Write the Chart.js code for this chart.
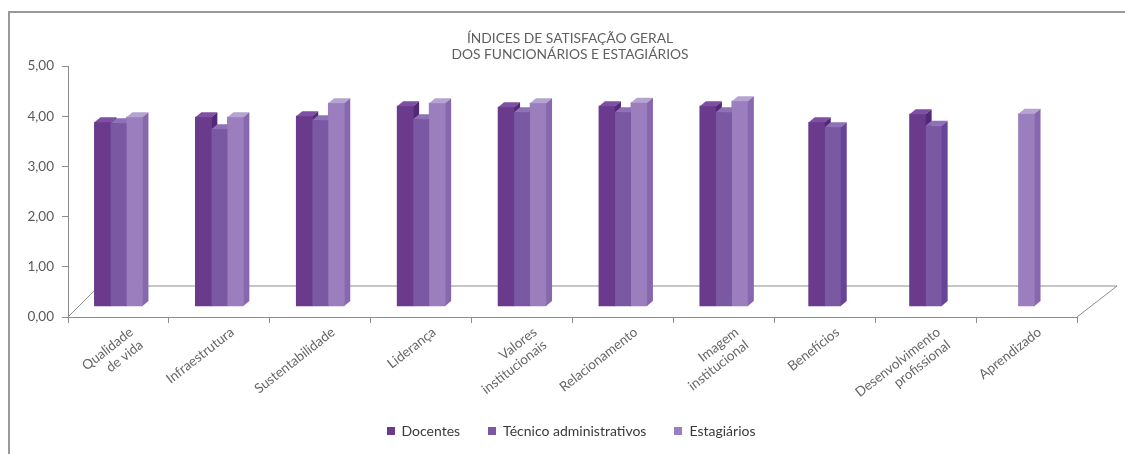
<!DOCTYPE html>
<html><head><meta charset="utf-8">
<script src="https://cdn.jsdelivr.net/npm/chart.js@4.4.0/dist/chart.umd.min.js"></script>
<style>
html,body{margin:0;padding:0;background:#fff;}
#wrap{position:relative;width:1125px;height:454px;overflow:hidden;}
#c{position:absolute;left:0;top:0;}
#frame{position:absolute;left:8px;top:11px;right:-5px;bottom:-5px;border-top:2px solid #999;border-left:2px solid #999;pointer-events:none;}
#title{position:absolute;top:30px;left:0;width:1140px;text-align:center;font-family:Lato,sans-serif;font-size:13.8px;line-height:16px;color:#5f5f5f;white-space:nowrap;}
#legend{position:absolute;top:422px;left:0;width:1142px;text-align:center;font-family:Lato,sans-serif;font-size:14px;color:#3a3a3a;white-space:nowrap;}
#legend span.item{display:inline-block;margin:0 14px;}
#legend span.box{display:inline-block;width:8px;height:8px;margin-right:7px;vertical-align:1px;}
</style></head><body>
<div id="wrap"><canvas id="c" width="1125" height="454"></canvas><div id="frame"></div><div id="title"></div><div id="legend"></div></div>
<script>
const categories = [["Qualidade","de vida"],"Infraestrutura","Sustentabilidade","Liderança",["Valores","institucionais"],"Relacionamento",["Imagem","institucional"],"Benefícios",["Desenvolvimento","profissional"],"Aprendizado"];
const docentes    = [3.88,3.98,4.00,4.20,4.18,4.20,4.20,3.88,4.04,null];
const tecnicos    = [3.86,3.74,3.92,3.94,4.08,4.08,4.08,3.78,3.81,null];
const estagiarios = [3.98,3.98,4.26,4.26,4.26,4.27,4.30,null,null,4.05];
const seriesNames = ["Docentes","Técnico administrativos","Estagiários"];
const yTickLabels = ["0,00","1,00","2,00","3,00","4,00","5,00"];
const titleLines  = ["ÍNDICES DE SATISFAÇÃO GERAL","DOS FUNCIONÁRIOS E ESTAGIÁRIOS"];

const frontColors = ["#6a3a8c","#7a58a2","#9a7ebd"];
const topColors   = ["#7e4fa3","#8f71b6","#b5a3d2"];
const sideColors  = ["#522879","#664497","#8768ae"];
const DX = 6, DY = 5;

const titleEl = document.getElementById('title');
titleLines.forEach(t=>{ const d=document.createElement('div'); d.textContent=t; titleEl.appendChild(d); });

const legendEl = document.getElementById('legend');
seriesNames.forEach((n,i)=>{
  const it = document.createElement('span'); it.className='item';
  const b = document.createElement('span'); b.className='box'; b.style.background=frontColors[i];
  it.appendChild(b); it.appendChild(document.createTextNode(n));
  legendEl.appendChild(it);
});

const floorPlugin = {
  id:'floor',
  beforeDatasetsDraw(chart){
    const {left,right,bottom} = chart.chartArea;
    const ctx = chart.ctx;
    ctx.save();
    ctx.strokeStyle = '#8c8c8c'; ctx.lineWidth = 1;
    ctx.beginPath();
    ctx.moveTo(left, bottom);
    ctx.lineTo(left+31, bottom-31);
    ctx.lineTo(right+40, bottom-31);
    ctx.lineTo(right, bottom);
    ctx.stroke();
    ctx.restore();
  }
};

const bar3dPlugin = {
  id:'bar3d',
  afterDatasetsDraw(chart){
    const ctx = chart.ctx;
    const n = chart.data.labels.length;
    for (let i=0;i<n;i++){
      chart.data.datasets.forEach((ds,di)=>{
        const meta = chart.getDatasetMeta(di);
        const el = meta.data[i];
        if (!el || ds.data[i] == null) return;
        const p = el.getProps(['x','y','base','width'], true);
        const l = p.x - p.width/2, r = p.x + p.width/2, y = p.y, b = p.base;
        ctx.save();
        ctx.fillStyle = frontColors[di];
        ctx.fillRect(l, y, p.width, b - y);
        ctx.fillStyle = topColors[di];
        ctx.beginPath(); ctx.moveTo(l,y); ctx.lineTo(r,y); ctx.lineTo(r+DX,y-DY); ctx.lineTo(l+DX,y-DY); ctx.closePath(); ctx.fill();
        ctx.fillStyle = sideColors[di];
        ctx.beginPath(); ctx.moveTo(r,y); ctx.lineTo(r+DX,y-DY); ctx.lineTo(r+DX,b-DY); ctx.lineTo(r,b); ctx.closePath(); ctx.fill();
        ctx.restore();
      });
    }
  }
};

const seriesData = [docentes, tecnicos, estagiarios];
new Chart(document.getElementById('c'), {
  type:'bar',
  data:{
    labels: categories,
    datasets: seriesNames.map((name,i)=>({
      label: name,
      data: seriesData[i],
      backgroundColor: frontColors[i],
      barThickness: 16,
      skipNull: true,
      base: 0.22
    }))
  },
  options:{
    responsive:false,
    animation:false,
    devicePixelRatio:1,
    layout:{ padding:{ left:12, right:48, top:66, bottom:37 } },
    plugins:{
      legend:{ display:false },
      tooltip:{ enabled:false },
      title:{ display:false }
    },
    scales:{
      x:{
        offset:true,
        grid:{ offset:true, drawOnChartArea:false, tickLength:6, color:'#8c8c8c' },
        border:{ color:'#8c8c8c' },
        ticks:{ autoSkip:false, minRotation:38, maxRotation:38, color:'#666',
                font:{ family:'Lato', size:13.5 }, labelOffset:13, padding:1 },
        afterFit(s){ s.height = 100; }
      },
      y:{
        min:0, max:5,
        grid:{ drawOnChartArea:false, tickLength:6, color:'#8c8c8c' },
        border:{ color:'#8c8c8c' },
        ticks:{ stepSize:1, color:'#595959', font:{ family:'Lato', size:13.5 }, padding:8,
                callback:(v,i)=>yTickLabels[i] },
        afterFit(s){ s.width = 56; }
      }
    }
  },
  plugins:[floorPlugin, bar3dPlugin]
});
</script>
</body></html>
